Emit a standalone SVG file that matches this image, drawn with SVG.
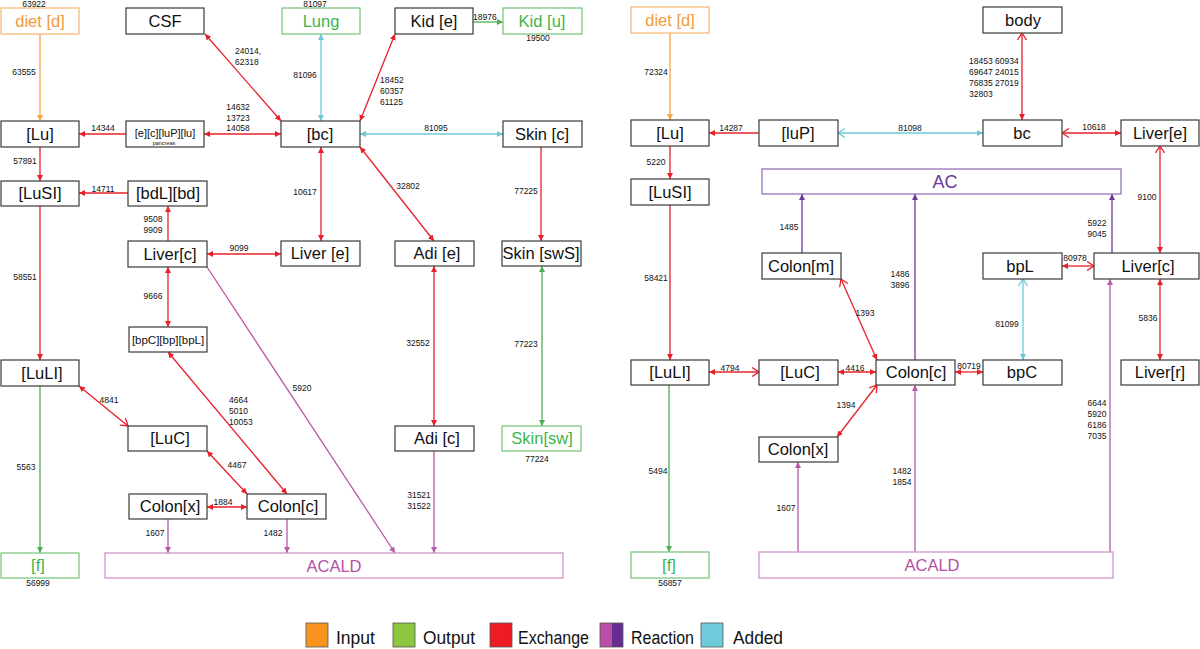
<svg xmlns="http://www.w3.org/2000/svg" width="1200" height="649" viewBox="0 0 1200 649">
<style>
text{font-family:"Liberation Sans",Arial,sans-serif}
.box{fill:#fff;stroke:#3a3a3a;stroke-width:1.2}
.bo{fill:#fff;stroke:#f6b56e;stroke-width:1.2}
.bg{fill:#fff;stroke:#72c477;stroke-width:1.2}
.bp{fill:#fff;stroke:#cf8cc6;stroke-width:1.2}
.bv{fill:#fff;stroke:#8a68b3;stroke-width:1.2}
.t{font-size:16.5px;text-anchor:middle;fill:#111}
.to{fill:#f39a3c}.tg{fill:#3cb54a}.tp{fill:#b450a6}.tv{fill:#6b3a9c}
.n{font-size:8.5px;text-anchor:middle;fill:#111}
.ns{font-size:8.5px;fill:#111}
.r{stroke:#e8202a;stroke-width:1.3;fill:none}
.c{stroke:#6cc8d8;stroke-width:1.3;fill:none}
.o{stroke:#f7a541;stroke-width:1.3;fill:none}
.g{stroke:#4cb050;stroke-width:1.3;fill:none}
.p{stroke:#b959a8;stroke-width:1.3;fill:none}
.v{stroke:#6b3a9c;stroke-width:1.3;fill:none}
.leg{font-size:18px;fill:#111}
</style>
<defs>
<marker id="fr" viewBox="0 0 6 6" refX="6" refY="3" markerWidth="6" markerHeight="6" markerUnits="userSpaceOnUse" orient="auto-start-reverse"><path d="M0,0L6,3L0,6z" fill="#e8202a"/></marker>
<marker id="cr" viewBox="0 0 8 10" refX="7.5" refY="5" markerWidth="8" markerHeight="10" markerUnits="userSpaceOnUse" orient="auto-start-reverse"><path d="M0.5,0.5L7.5,5L0.5,9.5" fill="none" stroke="#e8202a" stroke-width="1.3"/></marker>
<marker id="fc" viewBox="0 0 6 6" refX="6" refY="3" markerWidth="6" markerHeight="6" markerUnits="userSpaceOnUse" orient="auto-start-reverse"><path d="M0,0L6,3L0,6z" fill="#6cc8d8"/></marker>
<marker id="cc" viewBox="0 0 8 10" refX="7.5" refY="5" markerWidth="8" markerHeight="10" markerUnits="userSpaceOnUse" orient="auto-start-reverse"><path d="M0.5,0.5L7.5,5L0.5,9.5" fill="none" stroke="#6cc8d8" stroke-width="1.3"/></marker>
<marker id="fo" viewBox="0 0 6 6" refX="6" refY="3" markerWidth="6" markerHeight="6" markerUnits="userSpaceOnUse" orient="auto-start-reverse"><path d="M0,0L6,3L0,6z" fill="#f7a541"/></marker>
<marker id="fg" viewBox="0 0 6 6" refX="6" refY="3" markerWidth="6" markerHeight="6" markerUnits="userSpaceOnUse" orient="auto-start-reverse"><path d="M0,0L6,3L0,6z" fill="#4cb050"/></marker>
<marker id="fp" viewBox="0 0 6 6" refX="6" refY="3" markerWidth="6" markerHeight="6" markerUnits="userSpaceOnUse" orient="auto-start-reverse"><path d="M0,0L6,3L0,6z" fill="#b959a8"/></marker>
<marker id="fv" viewBox="0 0 6 6" refX="6" refY="3" markerWidth="6" markerHeight="6" markerUnits="userSpaceOnUse" orient="auto-start-reverse"><path d="M0,0L6,3L0,6z" fill="#6b3a9c"/></marker>
</defs>
<rect width="1200" height="649" fill="#fff"/>

<g id="connectors">
<!-- left panel -->
<line class="o" x1="40" y1="34" x2="40" y2="121" marker-end="url(#fo)"/>
<line class="r" x1="126" y1="134" x2="79" y2="134" marker-end="url(#fr)"/>
<line class="r" x1="204" y1="134" x2="281" y2="134" marker-start="url(#fr)" marker-end="url(#fr)"/>
<line class="r" x1="205" y1="34" x2="281" y2="121" marker-start="url(#fr)" marker-end="url(#fr)"/>
<line class="c" x1="321" y1="34" x2="321" y2="121" marker-start="url(#fc)" marker-end="url(#fc)"/>
<line class="r" x1="395" y1="34" x2="360" y2="121" marker-start="url(#fr)" marker-end="url(#fr)"/>
<line class="c" x1="360" y1="134" x2="503" y2="134" marker-start="url(#fc)" marker-end="url(#fc)"/>
<line class="g" x1="473" y1="22" x2="503" y2="22" marker-end="url(#fg)"/>
<line class="r" x1="40" y1="147" x2="40" y2="181" marker-end="url(#fr)"/>
<line class="r" x1="128" y1="193" x2="79" y2="193" marker-end="url(#fr)"/>
<line class="r" x1="168" y1="241" x2="168" y2="206" marker-end="url(#fr)"/>
<line class="r" x1="40" y1="206" x2="40" y2="360" marker-end="url(#fr)"/>
<line class="r" x1="207" y1="254" x2="281" y2="254" marker-start="url(#fr)" marker-end="url(#fr)"/>
<line class="r" x1="321" y1="147" x2="321" y2="241" marker-start="url(#fr)" marker-end="url(#fr)"/>
<line class="r" x1="360" y1="147" x2="434" y2="241" marker-start="url(#fr)" marker-end="url(#fr)"/>
<line class="r" x1="541" y1="147" x2="541" y2="241" marker-end="url(#fr)"/>
<line class="r" x1="168" y1="267" x2="168" y2="327" marker-start="url(#fr)" marker-end="url(#fr)"/>
<line class="r" x1="434" y1="266" x2="434" y2="426" marker-start="url(#fr)" marker-end="url(#fr)"/>
<line class="g" x1="542" y1="426" x2="542" y2="266" marker-start="url(#fg)" marker-end="url(#fg)"/>
<line class="p" x1="207" y1="267" x2="395" y2="553" marker-end="url(#fp)"/>
<line class="r" x1="79" y1="386" x2="128" y2="426" marker-start="url(#fr)" marker-end="url(#cr)"/>
<line class="r" x1="168" y1="352" x2="287" y2="494" marker-start="url(#fr)" marker-end="url(#fr)"/>
<line class="g" x1="40" y1="386" x2="40" y2="553" marker-end="url(#fg)"/>
<line class="r" x1="207" y1="451" x2="247" y2="494" marker-start="url(#fr)" marker-end="url(#fr)"/>
<line class="r" x1="207" y1="507" x2="247" y2="507" marker-start="url(#fr)" marker-end="url(#fr)"/>
<line class="p" x1="168" y1="519" x2="168" y2="553" marker-end="url(#fp)"/>
<line class="p" x1="287" y1="519" x2="287" y2="553" marker-end="url(#fp)"/>
<line class="p" x1="434" y1="451" x2="434" y2="553" marker-end="url(#fp)"/>
<!-- right panel -->
<line class="o" x1="670" y1="33" x2="670" y2="120" marker-end="url(#fo)"/>
<line class="r" x1="759" y1="133" x2="709" y2="133" marker-end="url(#fr)"/>
<line class="c" x1="838" y1="133" x2="983" y2="133" marker-start="url(#cc)" marker-end="url(#fc)"/>
<line class="r" x1="1022" y1="33" x2="1022" y2="120" marker-start="url(#cr)" marker-end="url(#fr)"/>
<line class="r" x1="1062" y1="133" x2="1121" y2="133" marker-start="url(#cr)" marker-end="url(#fr)"/>
<line class="r" x1="670" y1="146" x2="670" y2="179" marker-end="url(#fr)"/>
<line class="r" x1="670" y1="205" x2="670" y2="360" marker-end="url(#fr)"/>
<line class="r" x1="1160" y1="146" x2="1160" y2="253" marker-start="url(#cr)" marker-end="url(#fr)"/>
<line class="v" x1="802" y1="253" x2="802" y2="194" marker-end="url(#fv)"/>
<line class="v" x1="915" y1="360" x2="915" y2="194" marker-end="url(#fv)"/>
<line class="v" x1="1112" y1="253" x2="1112" y2="194" marker-end="url(#fv)"/>
<line class="r" x1="841" y1="279" x2="877" y2="360" marker-start="url(#cr)" marker-end="url(#fr)"/>
<line class="r" x1="1062" y1="266" x2="1094" y2="266" marker-start="url(#fr)" marker-end="url(#cr)"/>
<line class="c" x1="1023" y1="279" x2="1023" y2="360" marker-start="url(#cc)" marker-end="url(#fc)"/>
<line class="r" x1="1160" y1="279" x2="1160" y2="360" marker-start="url(#fr)" marker-end="url(#fr)"/>
<line class="r" x1="709" y1="372" x2="759" y2="372" marker-start="url(#fr)" marker-end="url(#cr)"/>
<line class="r" x1="838" y1="372" x2="876" y2="372" marker-start="url(#fr)" marker-end="url(#fr)"/>
<line class="r" x1="955" y1="372" x2="983" y2="372" marker-start="url(#fr)" marker-end="url(#fr)"/>
<line class="r" x1="877" y1="385" x2="837" y2="437" marker-start="url(#cr)" marker-end="url(#fr)"/>
<line class="g" x1="669" y1="385" x2="669" y2="552" marker-end="url(#fg)"/>
<line class="p" x1="798" y1="552" x2="798" y2="462" marker-end="url(#fp)"/>
<line class="p" x1="915" y1="552" x2="915" y2="385" marker-end="url(#fp)"/>
<line class="p" x1="1110" y1="552" x2="1110" y2="279" marker-end="url(#fp)"/>
</g>

<g id="edge-labels">
<text class="n to" x="34" y="7">63922</text>
<text class="n to" x="24" y="75">63555</text>
<text class="n" x="103" y="131">14344</text>
<text class="n" x="238" y="110">14632</text>
<text class="n" x="238" y="121">13723</text>
<text class="n" x="238" y="131">14058</text>
<text class="ns" x="235" y="54">24014,</text>
<text class="ns" x="235" y="65">62318</text>
<text class="n tg" x="315" y="7">81097</text>
<text class="n tg" x="305" y="78">81096</text>
<text class="ns tg" x="473" y="20">18976</text>
<text class="n tg" x="538" y="41">19500</text>
<text class="ns" x="380" y="83">18452</text>
<text class="ns" x="380" y="94">60357</text>
<text class="ns" x="380" y="105">61125</text>
<text class="n" x="436" y="131">81095</text>
<text class="n" x="305" y="195">10617</text>
<text class="n" x="408" y="189">32802</text>
<text class="n" x="526" y="194">77225</text>
<text class="n" x="25" y="164">57891</text>
<text class="n" x="103" y="192">14711</text>
<text class="n" x="153" y="222">9508</text>
<text class="n" x="153" y="233">9909</text>
<text class="n" x="239" y="251">9099</text>
<text class="n" x="25" y="280">58551</text>
<text class="n" x="153" y="299">9666</text>
<text class="n" x="109" y="403">4841</text>
<text class="ns" x="229" y="403">4664</text>
<text class="ns" x="229" y="414">5010</text>
<text class="ns" x="229" y="425">10053</text>
<text class="n tp" x="302" y="391">5920</text>
<text class="n" x="418" y="346">32552</text>
<text class="n tg" x="526" y="347">77223</text>
<text class="n tg" x="26" y="470">5563</text>
<text class="n" x="237" y="468">4467</text>
<text class="n" x="223" y="505">1884</text>
<text class="n tp" x="155" y="536">1607</text>
<text class="n tp" x="273" y="536">1482</text>
<text class="n tg" x="38" y="586">56999</text>
<text class="n tp" x="419" y="498">31521</text>
<text class="n tp" x="419" y="509">31522</text>
<text class="n tg" x="537" y="462">77224</text>

<text class="n to" x="656" y="75">72324</text>
<text class="n" x="731" y="131">14287</text>
<text class="n" x="910" y="131">81098</text>
<text class="n" x="656" y="165">5220</text>
<text class="ns" x="969" y="64">18453 60934</text>
<text class="ns" x="969" y="75">69647 24015</text>
<text class="ns" x="969" y="86">76835 27019</text>
<text class="ns" x="969" y="97">32803</text>
<text class="n" x="1094" y="130">10618</text>
<text class="n" x="1147" y="200">9100</text>
<text class="n tv" x="789" y="230">1485</text>
<text class="n" x="656" y="281">58421</text>
<text class="n tv" x="900" y="277">1486</text>
<text class="n tv" x="900" y="288">3896</text>
<text class="n" x="865" y="316">1393</text>
<text class="n" x="730" y="371">4794</text>
<text class="n" x="855" y="371">4416</text>
<text class="n" x="846" y="408">1394</text>
<text class="n tv" x="1097" y="226">5922</text>
<text class="n tv" x="1097" y="237">9045</text>
<text class="n" x="1075" y="261">80978</text>
<text class="n" x="1007" y="327">81099</text>
<text class="n" x="1148" y="321">5836</text>
<text class="n" x="969" y="369">80719</text>
<text class="n tp" x="1097" y="406">6644</text>
<text class="n tp" x="1097" y="417">5920</text>
<text class="n tp" x="1097" y="428">6186</text>
<text class="n tp" x="1097" y="439">7035</text>
<text class="n tp" x="902" y="474">1482</text>
<text class="n tp" x="902" y="485">1854</text>
<text class="n tp" x="786" y="511">1607</text>
<text class="n tg" x="658" y="474">5494</text>
<text class="n tg" x="670" y="586">56857</text>
</g>

<!-- left panel nodes -->
<g id="L-diet"><rect class="bo" x="1" y="8" width="78" height="26"/><text class="t to" x="40" y="27">diet [d]</text></g>
<g id="L-CSF"><rect class="box" x="126" y="8" width="78" height="26"/><text class="t" x="165" y="27">CSF</text></g>
<g id="L-Lung"><rect class="bg" x="282" y="8" width="78" height="26"/><text class="t tg" x="321" y="27">Lung</text></g>
<g id="L-Kid-e"><rect class="box" x="395" y="8" width="78" height="26"/><text class="t" x="434" y="27">Kid [e]</text></g>
<g id="L-Kid-u"><rect class="bg" x="503" y="8" width="79" height="26"/><text class="t tg" x="542" y="27">Kid [u]</text></g>
<g id="L-Lu"><rect class="box" x="1" y="121" width="78" height="26"/><text class="t" x="40" y="140">[Lu]</text></g>
<g id="L-pancreas"><rect class="box" x="126" y="121" width="78" height="26"/><text class="t" style="font-size:11px" x="165" y="137">[e][c][luP][lu]</text><text class="t" style="font-size:5.5px" x="164" y="145">pancreas</text></g>
<g id="L-bc"><rect class="box" x="281" y="121" width="79" height="26"/><text class="t" x="320" y="140">[bc]</text></g>
<g id="L-Skin-c"><rect class="box" x="503" y="121" width="79" height="26"/><text class="t" x="542" y="140">Skin [c]</text></g>
<g id="L-LuSI"><rect class="box" x="1" y="181" width="78" height="25"/><text class="t" x="40" y="199">[LuSI]</text></g>
<g id="L-bdL"><rect class="box" x="128" y="181" width="79" height="25"/><text class="t" x="168" y="199">[bdL][bd]</text></g>
<g id="L-Liver-c"><rect class="box" x="128" y="241" width="79" height="26"/><text class="t" x="170" y="260">Liver[c]</text></g>
<g id="L-Liver-e"><rect class="box" x="281" y="241" width="79" height="25"/><text class="t" x="320" y="259">Liver [e]</text></g>
<g id="L-Adi-e"><rect class="box" x="395" y="241" width="79" height="25"/><text class="t" x="437" y="259">Adi [e]</text></g>
<g id="L-Skin-swS"><rect class="box" x="502" y="241" width="79" height="25"/><text class="t" x="541" y="259">Skin [swS]</text></g>
<g id="L-bp"><rect class="box" x="129" y="327" width="78" height="25"/><text class="t" style="font-size:11.5px" x="168" y="344">[bpC][bp][bpL]</text></g>
<g id="L-LuLI"><rect class="box" x="1" y="360" width="78" height="26"/><text class="t" x="42" y="379">[LuLI]</text></g>
<g id="L-LuC"><rect class="box" x="128" y="426" width="79" height="25"/><text class="t" x="170" y="444">[LuC]</text></g>
<g id="L-Adi-c"><rect class="box" x="395" y="426" width="79" height="25"/><text class="t" x="437" y="444">Adi [c]</text></g>
<g id="L-Skin-sw"><rect class="bg" x="502" y="426" width="79" height="25"/><text class="t tg" x="542" y="444">Skin[sw]</text></g>
<g id="L-Colon-x"><rect class="box" x="129" y="494" width="78" height="25"/><text class="t" x="170" y="512">Colon[x]</text></g>
<g id="L-Colon-c"><rect class="box" x="247" y="494" width="79" height="25"/><text class="t" x="288" y="512">Colon[c]</text></g>
<g id="L-f"><rect class="bg" x="1" y="553" width="78" height="25"/><text class="t tg" x="38" y="571">[f]</text></g>
<g id="L-ACALD"><rect class="bp" x="105" y="553" width="458" height="25"/><text class="t tp" x="334" y="572">ACALD</text></g>

<!-- right panel nodes -->
<g id="R-diet"><rect class="bo" x="631" y="7" width="78" height="26"/><text class="t to" x="670" y="26">diet [d]</text></g>
<g id="R-body"><rect class="box" x="983" y="7" width="79" height="26"/><text class="t" x="1023" y="26">body</text></g>
<g id="R-Lu"><rect class="box" x="631" y="120" width="78" height="26"/><text class="t" x="670" y="139">[Lu]</text></g>
<g id="R-luP"><rect class="box" x="759" y="120" width="79" height="26"/><text class="t" x="798" y="139">[luP]</text></g>
<g id="R-bc"><rect class="box" x="983" y="120" width="79" height="26"/><text class="t" x="1022" y="139">bc</text></g>
<g id="R-Liver-e"><rect class="box" x="1121" y="120" width="78" height="26"/><text class="t" x="1160" y="139">Liver[e]</text></g>
<g id="R-LuSI"><rect class="box" x="631" y="179" width="78" height="26"/><text class="t" x="670" y="198">[LuSI]</text></g>
<g id="R-AC"><rect class="bv" x="762" y="169" width="359" height="25"/><text class="t tv" style="font-size:18px" x="945" y="188">AC</text></g>
<g id="R-Colon-m"><rect class="box" x="762" y="253" width="79" height="26"/><text class="t" x="801" y="272">Colon[m]</text></g>
<g id="R-bpL"><rect class="box" x="983" y="253" width="79" height="26"/><text class="t" x="1020" y="272">bpL</text></g>
<g id="R-Liver-c"><rect class="box" x="1094" y="253" width="105" height="26"/><text class="t" x="1148" y="272">Liver[c]</text></g>
<g id="R-LuLI"><rect class="box" x="631" y="360" width="78" height="25"/><text class="t" x="670" y="378">[LuLI]</text></g>
<g id="R-LuC"><rect class="box" x="759" y="360" width="79" height="25"/><text class="t" x="800" y="378">[LuC]</text></g>
<g id="R-Colon-c"><rect class="box" x="876" y="360" width="79" height="25"/><text class="t" x="916" y="378">Colon[c]</text></g>
<g id="R-bpC"><rect class="box" x="983" y="360" width="79" height="25"/><text class="t" x="1022" y="378">bpC</text></g>
<g id="R-Liver-r"><rect class="box" x="1121" y="360" width="78" height="25"/><text class="t" x="1160" y="378">Liver[r]</text></g>
<g id="R-Colon-x"><rect class="box" x="759" y="437" width="79" height="25"/><text class="t" x="798" y="455">Colon[x]</text></g>
<g id="R-f"><rect class="bg" x="631" y="552" width="78" height="26"/><text class="t tg" x="669" y="571">[f]</text></g>
<g id="R-ACALD"><rect class="bp" x="759" y="552" width="354" height="26"/><text class="t tp" x="932" y="571">ACALD</text></g>

<g id="legend">
<rect x="306" y="623" width="22" height="24" fill="#f7941d" stroke="#555" stroke-width="0.8"/>
<text class="leg" x="336" y="644" textLength="39" lengthAdjust="spacingAndGlyphs">Input</text>
<rect x="393" y="623" width="22" height="24" fill="#8dc63f" stroke="#555" stroke-width="0.8"/>
<text class="leg" x="423" y="644" textLength="52" lengthAdjust="spacingAndGlyphs">Output</text>
<rect x="490" y="623" width="22" height="24" fill="#ed1c24" stroke="#555" stroke-width="0.8"/>
<text class="leg" x="518" y="644" textLength="71" lengthAdjust="spacingAndGlyphs">Exchange</text>
<rect x="600" y="623" width="12" height="24" fill="#b750a6"/>
<rect x="612" y="623" width="11" height="24" fill="#662d91"/>
<rect x="600" y="623" width="23" height="24" fill="none" stroke="#555" stroke-width="0.8"/>
<text class="leg" x="631" y="644" textLength="63" lengthAdjust="spacingAndGlyphs">Reaction</text>
<rect x="701" y="623" width="22" height="24" fill="#6dcbdc" stroke="#555" stroke-width="0.8"/>
<text class="leg" x="733" y="644" textLength="50" lengthAdjust="spacingAndGlyphs">Added</text>
</g>
</svg>
